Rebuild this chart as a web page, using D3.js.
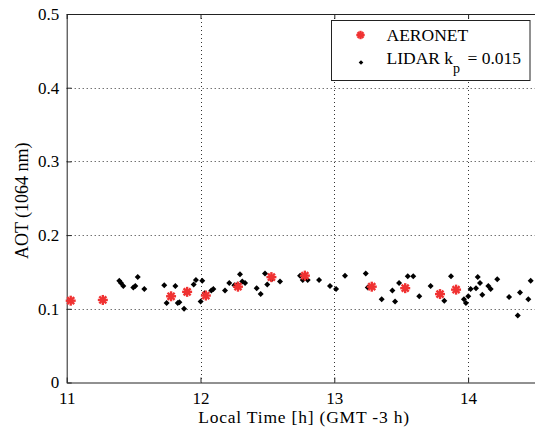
<!DOCTYPE html>
<html>
<head>
<meta charset="utf-8">
<script src="https://cdn.jsdelivr.net/npm/d3@7"></script>
<style>
  html, body { margin: 0; padding: 0; background: #fff; }
  svg { display: block; }
</style>
</head>
<body>
<svg id="chart" width="535" height="430"></svg>
<script>
// AERONET sun-photometer retrievals (local time [h], AOT at 1064 nm)
const aeronetTime = [11.03, 11.27, 11.78, 11.90, 12.04, 12.28, 12.53, 12.78, 13.28, 13.53, 13.79, 13.91];
const aeronetAOT  = [0.111, 0.112, 0.117, 0.123, 0.118, 0.130, 0.143, 0.145, 0.130, 0.128, 0.120, 0.126];

// LIDAR-derived AOT with k_p = 0.015
const lidarTime = [
  11.393, 11.406, 11.423, 11.498, 11.513, 11.531, 11.580, 11.729, 11.747, 11.812,
  11.830, 11.842, 11.877, 11.892, 11.949, 11.966, 12.001, 12.013, 12.031, 12.081,
  12.096, 12.183, 12.215, 12.253, 12.278, 12.295, 12.312, 12.333, 12.420, 12.450,
  12.482, 12.499, 12.532, 12.594, 12.744, 12.764, 12.801, 12.886, 12.968, 13.013,
  13.080, 13.235, 13.250, 13.354, 13.434, 13.454, 13.484, 13.549, 13.590, 13.635,
  13.720, 13.822, 13.872, 13.969, 13.984, 14.001, 14.019, 14.059, 14.072, 14.089,
  14.106, 14.151, 14.169, 14.218, 14.306, 14.371, 14.388, 14.450, 14.468
];
const lidarAOT = [
  0.138, 0.135, 0.131, 0.129, 0.131, 0.143, 0.127, 0.132, 0.108, 0.131,
  0.108, 0.109, 0.100, 0.122, 0.133, 0.139, 0.110, 0.138, 0.121, 0.125,
  0.127, 0.125, 0.135, 0.132, 0.133, 0.147, 0.137, 0.135, 0.128, 0.120,
  0.148, 0.133, 0.140, 0.137, 0.145, 0.139, 0.139, 0.139, 0.131, 0.127,
  0.145, 0.148, 0.129, 0.113, 0.125, 0.110, 0.135, 0.144, 0.144, 0.117,
  0.131, 0.111, 0.144, 0.113, 0.108, 0.117, 0.127, 0.128, 0.143, 0.135,
  0.119, 0.131, 0.127, 0.140, 0.116, 0.091, 0.122, 0.113, 0.138
];

const xTicks = [11, 12, 13, 14];
const yTicks = [0, 0.1, 0.2, 0.3, 0.4, 0.5];
const xLabel = "Local Time [h] (GMT -3 h)";
const yLabel = "AOT (1064 nm)";
const legendNames = ["AERONET", "LIDAR k", "p", "= 0.015"];

const FONT = '"Liberation Serif", "Times New Roman", serif';
const svg = d3.select("#chart");
const plotLeft = 66.7, plotRight = 535, plotTop = 14, plotBottom = 382.5;

const x = d3.scaleLinear().domain([11, 14.5]).range([plotLeft, plotRight]);
const y = d3.scaleLinear().domain([0, 0.5]).range([plotBottom, plotTop]);

// dotted grid
const grid = svg.append("g").attr("stroke", "#333").attr("stroke-width", 1)
  .attr("stroke-dasharray", "1,3").attr("fill", "none");
xTicks.filter(t => t > 11).forEach(t => {
  grid.append("line").attr("x1", Math.round(x(t)) + 0.5).attr("x2", Math.round(x(t)) + 0.5)
    .attr("y1", plotTop).attr("y2", plotBottom);
});
yTicks.filter(t => t > 0 && t < 0.5).forEach(t => {
  grid.append("line").attr("y1", Math.round(y(t)) + 0.5).attr("y2", Math.round(y(t)) + 0.5)
    .attr("x1", plotLeft).attr("x2", plotRight);
});

// axes with inward ticks (bottom/left labelled, top mirrored)
const tickFont = 17;
const xAxis = d3.axisBottom(x).tickValues(xTicks).tickFormat(d3.format("d"))
  .tickSizeInner(-5).tickSizeOuter(0).tickPadding(9);
const yAxis = d3.axisLeft(y).tickValues(yTicks).tickFormat(d => d === 0 ? "0" : d3.format(".1f")(d))
  .tickSizeInner(-5).tickSizeOuter(0).tickPadding(7.5);
const xTop = d3.axisTop(x).tickValues(xTicks).tickFormat("").tickSizeInner(-5).tickSizeOuter(0);

function styleAxis(g) {
  g.attr("font-family", null).attr("font-size", null);
  g.selectAll("path").attr("stroke", "#222");
  g.selectAll("line").attr("stroke", "#222");
  g.selectAll("text").style("font-family", FONT).style("font-size", tickFont + "px").attr("fill", "#000");
}

svg.append("g").attr("transform", `translate(0,${plotBottom})`).call(xAxis).call(styleAxis);
svg.append("g").attr("transform", `translate(${plotLeft},0)`).call(yAxis).call(styleAxis);
svg.append("g").attr("transform", `translate(0,${plotTop})`).call(xTop).call(styleAxis);

// axis titles
svg.append("text").attr("x", 304).attr("y", 423).attr("text-anchor", "middle")
  .style("font-family", FONT).style("font-size", "17.5px").style("letter-spacing", "0.8px")
  .attr("fill", "#000").text(xLabel);
svg.append("text").attr("transform", `translate(27.5,${(plotTop + plotBottom) / 2 + 2.5}) rotate(-90)`)
  .attr("text-anchor", "middle").style("font-family", FONT).style("font-size", "18px")
  .attr("fill", "#000").text(yLabel);

// marker shapes
function star(g, cx, cy, r) {
  const s = g.append("g").attr("transform", `translate(${cx},${cy})`)
    .attr("stroke", "#f03232").attr("stroke-width", 2.4).attr("stroke-linecap", "square");
  s.append("line").attr("x1", -r).attr("x2", r).attr("y1", 0).attr("y2", 0);
  s.append("line").attr("x1", 0).attr("x2", 0).attr("y1", -r).attr("y2", r);
  const d = r * 0.7;
  s.append("line").attr("x1", -d).attr("x2", d).attr("y1", -d).attr("y2", d);
  s.append("line").attr("x1", -d).attr("x2", d).attr("y1", d).attr("y2", -d);
}
function dot(g, cx, cy, r) {
  g.append("path").attr("d", `M${cx},${cy - r}L${cx + r},${cy}L${cx},${cy + r}L${cx - r},${cy}Z`)
    .attr("fill", "#000");
}

const marks = svg.append("g");
lidarTime.forEach((t, i) => dot(marks, x(t), y(lidarAOT[i]), 3));
aeronetTime.forEach((t, i) => star(marks, x(t), y(aeronetAOT[i]), 3.8));

// legend
const lg = svg.append("g");
lg.append("rect").attr("x", 331.5).attr("y", 20.5).attr("width", 198.5).attr("height", 60)
  .attr("fill", "#fff").attr("stroke", "#222").attr("stroke-width", 1);
star(lg, 360.5, 35, 3);
dot(lg, 361, 62.5, 2.3);
const legendFont = "17.5px";
lg.append("text").attr("x", 386.5).attr("y", 40.5)
  .style("font-family", FONT).style("font-size", legendFont).attr("fill", "#000").text(legendNames[0]);
const t2 = lg.append("text").attr("x", 386.5).attr("y", 63.5)
  .style("font-family", FONT).style("font-size", legendFont).attr("fill", "#000");
t2.append("tspan").text(legendNames[1]);
t2.append("tspan").attr("y", 73).style("font-size", "14px").text(legendNames[2]);
t2.append("tspan").attr("x", 467.5).attr("y", 63.5).text(legendNames[3]);
</script>
</body>
</html>
